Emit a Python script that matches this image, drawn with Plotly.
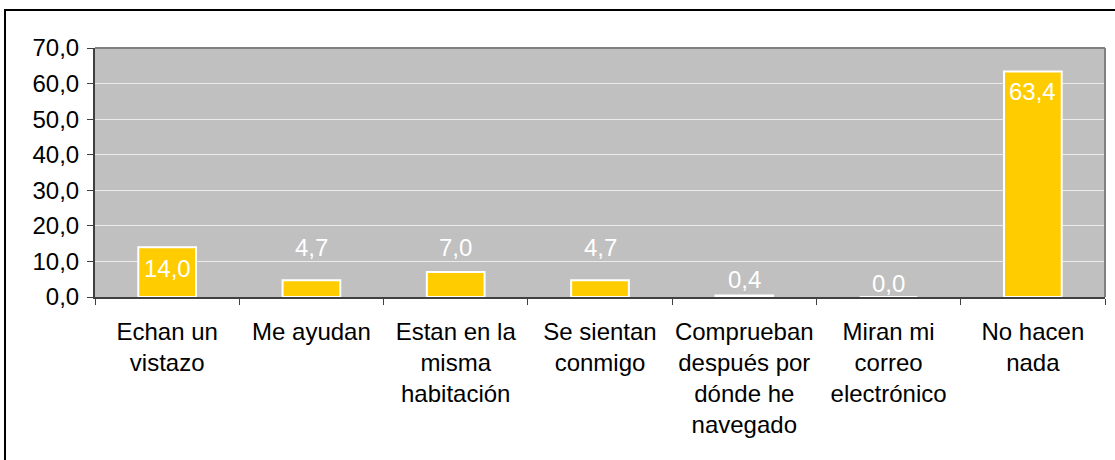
import plotly.graph_objects as go

categories = [
    "Echan un<br>vistazo",
    "Me ayudan",
    "Estan en la<br>misma<br>habitación",
    "Se sientan<br>conmigo",
    "Comprueban<br>después por<br>dónde he<br>navegado",
    "Miran mi<br>correo<br>electrónico",
    "No hacen<br>nada",
]
values = [14.0, 4.7, 7.0, 4.7, 0.4, 0.0, 63.4]
y_ticks = [0, 10, 20, 30, 40, 50, 60, 70]

# label offsets (px) as placed in the original, negative = inside the bar
label_shift = [-21, 33, 25, 33, 16, 14, -20]

FONT = "Liberation Sans, Arial, sans-serif"

fig = go.Figure()
fig.add_bar(
    x=categories,
    y=values,
    marker=dict(color="#FFCC00", line=dict(color="white", width=2)),
    width=0.4,
    hoverinfo="skip",
)

for cat, val, shift in zip(categories, values, label_shift):
    fig.add_annotation(
        x=cat,
        y=val,
        yshift=shift,
        yanchor="middle",
        text=f"{val:.1f}".replace(".", ","),
        showarrow=False,
        font=dict(family=FONT, size=24, color="white"),
    )

fig.update_layout(
    width=1115,
    height=460,
    margin=dict(l=95, r=10, t=48, b=163),
    plot_bgcolor="#C0C0C0",
    paper_bgcolor="white",
    separators=",.",
    showlegend=False,
    font=dict(family=FONT, size=24, color="black"),
    shapes=[
        # outer chart frame (right/bottom edges fall outside the picture)
        dict(
            type="rect", xref="paper", yref="paper",
            x0=-0.0891, x1=1.2, y0=-1.0, y1=1.1526,
            line=dict(color="black", width=2), layer="below",
        ),
        dict(
            type="line", xref="paper", yref="paper",
            x0=0, x1=1, y0=1, y1=1,
            line=dict(color="#808080", width=2),
        ),
        dict(
            type="line", xref="paper", yref="paper",
            x0=1, x1=1, y0=0, y1=1,
            line=dict(color="#808080", width=2),
        ),
    ],
)
fig.update_xaxes(
    type="category",
    tickson="boundaries",
    ticks="outside",
    ticklen=6,
    tickcolor="#404040",
    showline=True,
    linecolor="#404040",
    linewidth=2,
    showgrid=False,
    tickangle=0,
    automargin=False,
    ticklabelstandoff=12,
    tickfont=dict(family=FONT, size=24, color="black"),
)
fig.update_yaxes(
    range=[0, 70],
    tickvals=y_ticks,
    tickformat=".1f",
    ticks="outside",
    ticklen=6,
    tickcolor="#404040",
    showline=True,
    linecolor="#404040",
    linewidth=2,
    gridcolor="#EBEBEB",
    gridwidth=1,
    zeroline=False,
    automargin=False,
    ticklabelstandoff=3,
    tickfont=dict(family=FONT, size=24, color="black"),
)

fig.write_html(
    "out.html",
    config={"displayModeBar": False},
    post_script="document.body.style.margin='0';document.body.style.overflow='hidden';",
)
